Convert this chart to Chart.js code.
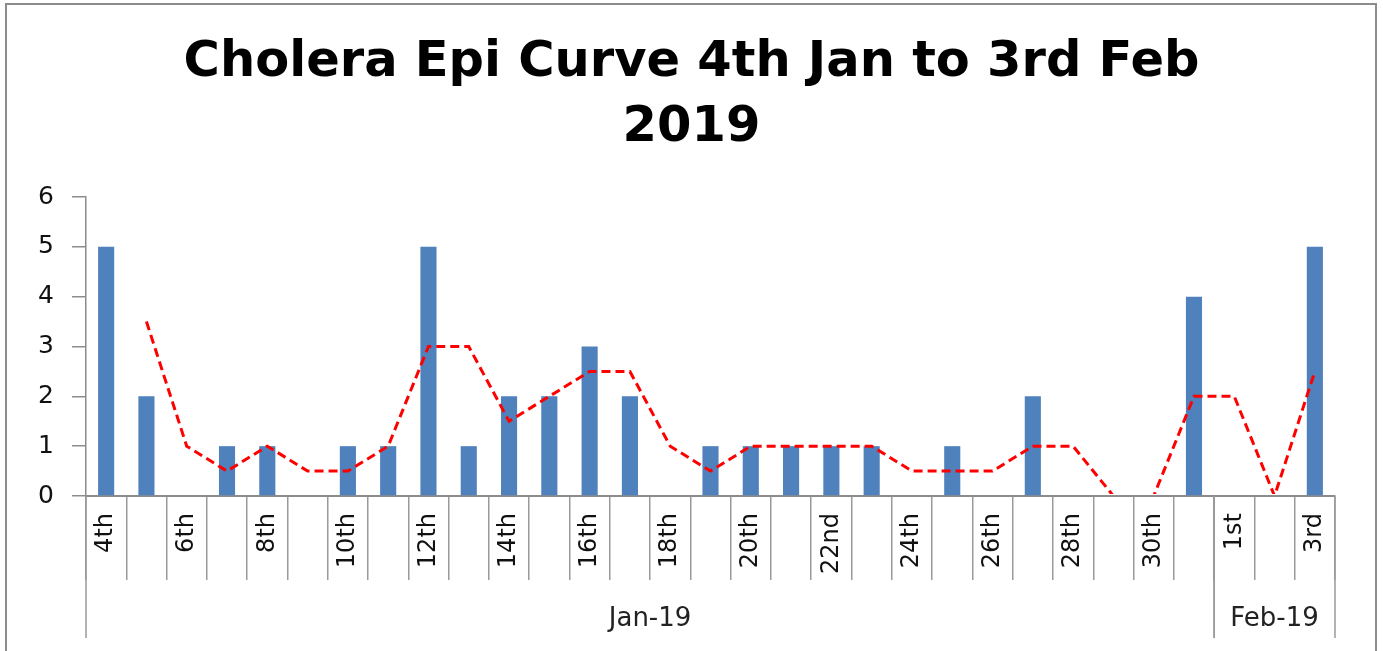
<!DOCTYPE html>
<html>
<head>
<meta charset="utf-8">
<script src="https://cdn.jsdelivr.net/npm/chart.js@4/dist/chart.umd.min.js"></script>
<style>
  body { margin: 0; background: #fff; overflow: hidden; }
  #wrap { position: relative; width: 1383px; height: 651px; }
  #frame { position: absolute; left: 5px; top: 3px; width: 1368px; height: 700px;
           border: 2px solid #8c8c8c; pointer-events: none; }
  canvas { position: absolute; left: 0; top: 0; }
</style>
</head>
<body>
<div id="wrap">
  <canvas id="epi-canvas" width="1383" height="651"></canvas>
  <div id="frame"></div>
</div>
<script>
    // days from 4th Jan to 3rd Feb 2019
    var days = ['4th', '5th', '6th', '7th', '8th', '9th', '10th', '11th', '12th', '13th',
                '14th', '15th', '16th', '17th', '18th', '19th', '20th', '21st', '22nd', '23rd',
                '24th', '25th', '26th', '27th', '28th', '29th', '30th', '31st', '1st', '2nd', '3rd'];
    var cases = [5, 2, 0, 1, 1, 0, 1, 1, 5, 1,
                 2, 2, 3, 2, 0, 1, 1, 1, 1, 1,
                 0, 1, 0, 2, 0, 0, 0, 4, 0, 0, 5];
    // dashed trend line (2 day moving average)
    var movingAvg = [null, 3.5, 1, 0.5, 1, 0.5, 0.5, 1, 3, 3,
                     1.5, 2, 2.5, 2.5, 1, 0.5, 1, 1, 1, 1,
                     0.5, 0.5, 0.5, 1, 1, 0, 0, 2, 2, 0, 2.5];
    var monthLabels = ['Jan-19', 'Feb-19'];
    var monthSizes = [28, 3];
    var yTicks = [0, 1, 2, 3, 4, 5, 6];
    var titleLines = ['Cholera Epi Curve 4th Jan to 3rd Feb', '2019'];

    var smallFont = 'DejaVu Sans';

    // title is centred on the whole picture, not on the plot
    var pageTitle = {
        id: 'pageTitle',
        afterDraw: function(chart) {
            var ctx = chart.ctx;
            ctx.save();
            ctx.fillStyle = '#000';
            ctx.font = 'bold 49.5px DejaVu Sans';
            ctx.textAlign = 'center';
            ctx.textBaseline = 'middle';
            for (var i = 0; i < titleLines.length; i++) {
                ctx.fillText(titleLines[i], chart.width / 2, 63 + i * 65);
            }
            ctx.restore();
        }
    };

    // second row of the axis: month names with long separators
    var monthRow = {
        id: 'monthRow',
        afterDraw: function(chart) {
            var ctx = chart.ctx;
            var x = chart.scales.x;
            var half = (x.getPixelForTick(1) - x.getPixelForTick(0)) / 2;
            var bottom = chart.chartArea.bottom;
            var start = 0;
            ctx.save();
            ctx.strokeStyle = '#9a9a9a';
            ctx.lineWidth = 1.5;
            ctx.fillStyle = '#222';
            ctx.font = '26px ' + smallFont;
            ctx.textAlign = 'center';
            ctx.textBaseline = 'middle';
            for (var i = 0; i < monthLabels.length; i++) {
                var end = start + monthSizes[i] - 1;
                var left = x.getPixelForTick(start) - half;
                var right = x.getPixelForTick(end) + half;
                ctx.beginPath();
                ctx.moveTo(left, bottom);
                ctx.lineTo(left, 638);
                ctx.moveTo(right, bottom);
                ctx.lineTo(right, 638);
                ctx.stroke();
                ctx.fillText(monthLabels[i], (left + right) / 2, 619);
                start = end + 1;
            }
            ctx.restore();
        }
    };

    var ctx = document.getElementById('epi-canvas').getContext('2d');
    var chart = new Chart(ctx, {
        data: {
            labels: days,
            datasets: [{
                type: 'line',
                label: 'Trend',
                data: movingAvg,
                borderColor: '#ff0000',
                borderWidth: 3,
                borderDash: [9, 5],
                pointRadius: 0,
                tension: 0,
                fill: false,
                clip: { left: 10, top: 10, right: 10, bottom: -2 },
                order: 0
            }, {
                type: 'bar',
                label: 'Cases',
                data: cases,
                backgroundColor: '#4f81bd',
                borderWidth: 0,
                categoryPercentage: 1,
                barPercentage: 0.4,
                order: 1
            }]
        },
        options: {
            responsive: false,
            animation: false,
            devicePixelRatio: 1,
            layout: { padding: { left: 0, right: 48, top: 197, bottom: 0 } },
            plugins: {
                legend: { display: false },
                tooltip: { enabled: false },
                title: { display: false }
            },
            scales: {
                x: {
                    z: 1,
                    offset: true,
                    border: { color: '#8c8c8c', width: 2 },
                    grid: {
                        offset: true,
                        drawOnChartArea: false,
                        drawTicks: true,
                        tickLength: 84,
                        color: '#9a9a9a',
                        lineWidth: 1.5
                    },
                    ticks: {
                        autoSkip: false,
                        minRotation: 90,
                        maxRotation: 90,
                        padding: -67,
                        color: '#111',
                        font: { family: smallFont, size: 24 },
                        callback: function(value, index) {
                            return index % 2 === 0 ? days[index] : '';
                        }
                    },
                    afterFit: function(scale) { scale.height = 155; }
                },
                y: {
                    min: 0,
                    max: 6,
                    border: { color: '#8c8c8c', width: 1.5 },
                    grid: {
                        drawOnChartArea: false,
                        tickLength: 14,
                        color: '#8c8c8c',
                        lineWidth: 1.5
                    },
                    afterBuildTicks: function(scale) {
                        scale.ticks = yTicks.map(function(v) { return { value: v }; });
                    },
                    ticks: {
                        padding: 18,
                        color: '#111',
                        font: { family: smallFont, size: 25 }
                    },
                    afterFit: function(scale) { scale.width = 86; }
                }
            }
        },
        plugins: [monthRow, pageTitle]
    });
</script>
</body>
</html>
